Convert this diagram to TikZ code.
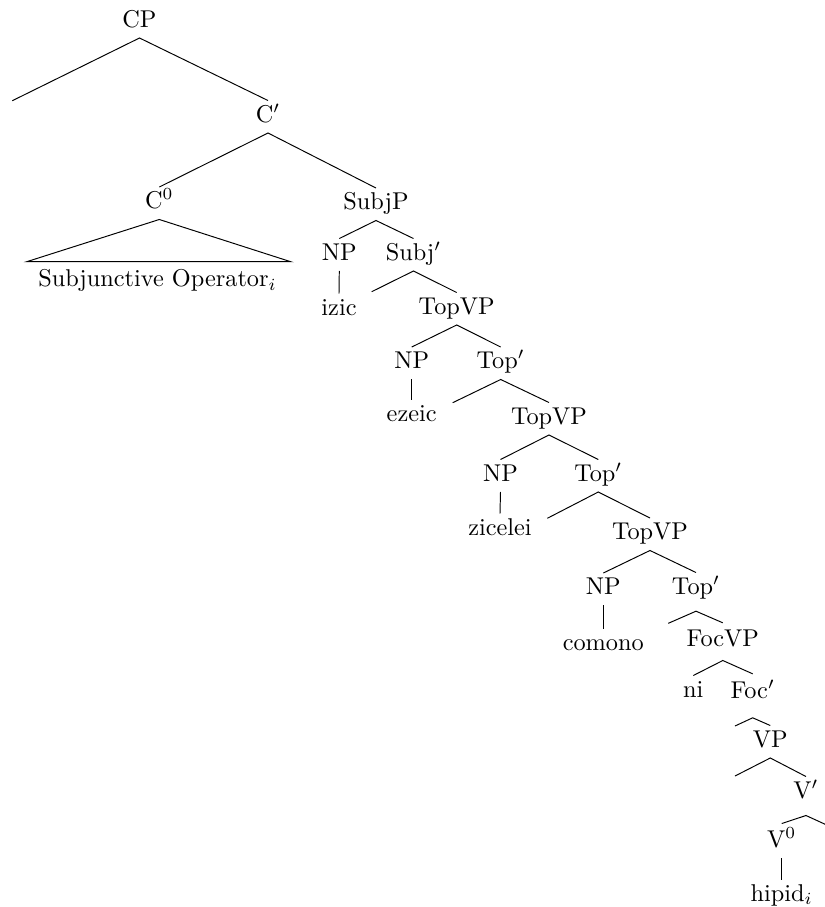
\documentclass[tikz,border=0pt]{standalone}
\begin{document}
\begin{tikzpicture}[x=0.4115pt, y=-0.4115pt,
  lbl/.style={inner sep=0pt, text height=8.64pt, text depth=4.32pt, anchor=base},
  branch/.style={line width=0.4pt}]
\useasboundingbox (0,0) rectangle (825,907);

% labels
\node[lbl] (cp) at (139.5,27) {CP};
\node[lbl] (cbar) at (268,122) {C$'$};
\node[lbl] (czero) at (159.3,208.5) {C$^0$};
\node[lbl] (subjp) at (376,209.5) {SubjP};
\node[lbl] (oper) at (157.5,286.5) {Subjunctive Operator$_i$};
\node[lbl] (np1) at (339.3,260) {NP};
\node[lbl] (subjbar) at (413.5,260) {Subj$'$};
\node[lbl] (izic) at (339,315) {izic};
\node[lbl] (topvp1) at (456.7,314) {TopVP};
\node[lbl] (np2) at (411.7,368.5) {NP};
\node[lbl] (topbar1) at (500.7,368.5) {Top$'$};
\node[lbl] (ezeic) at (411.7,421.5) {ezeic};
\node[lbl] (topvp2) at (549,424) {TopVP};
\node[lbl] (np3) at (500.5,481) {NP};
\node[lbl] (topbar2) at (598.3,481) {Top$'$};
\node[lbl] (zicelei) at (500,535) {zicelei};
\node[lbl] (topvp3) at (650,539.5) {TopVP};
\node[lbl] (np4) at (603.3,594.5) {NP};
\node[lbl, text depth=6.87pt] (topbar3) at (696,594) {Top$'$};
\node[lbl] (comono) at (603.3,650) {comono};
\node[lbl, text height=9.55pt, text depth=5.56pt] (focvp) at (722.8,646.5) {FocVP};
\node[lbl] (ni) at (693.3,697) {ni};
\node[lbl, text height=9.75pt, text depth=7.94pt] (focbar) at (752.7,698) {Foc$'$};
\node[lbl] (vp) at (770.3,747) {VP};
\node[lbl, text depth=7pt] (vbar) at (806,798) {V$'$};
\node[lbl, text height=9.67pt] (vzero) at (781.7,847.5) {V$^0$};
\node[lbl] (hipid) at (781.7,901) {hipid$_i$};

% free ends of empty branches
\coordinate (cpL) at (12.3,100.7);
\coordinate (subjL) at (371.7,291.7);
\coordinate (top1L) at (452.7,402.7);
\coordinate (top2L) at (547.3,518.3);
\coordinate (top3L) at (668.3,623.3);
\coordinate (focL) at (735,726);
\coordinate (vpL) at (735,776);
\coordinate (vbarR) at (830,826.5);
\coordinate (triL) at (26.7,261.7);
\coordinate (triR) at (290.7,261.7);

% branches
\draw[branch] (cpL) -- (cp.south) -- (cbar.north);
\draw[branch] (czero.north) -- (cbar.south) -- (subjp.north);
\draw[branch] (czero.south) -- (triL) -- (triR) -- cycle;
\draw[branch] (np1.north) -- (subjp.south) -- (subjbar.north);
\draw[branch] (np1.south) -- (izic.north);
\draw[branch] (subjL) -- (subjbar.south) -- (topvp1.north);
\draw[branch] (np2.north) -- (topvp1.south) -- (topbar1.north);
\draw[branch] (np2.south) -- (ezeic.north);
\draw[branch] (top1L) -- (topbar1.south) -- (topvp2.north);
\draw[branch] (np3.north) -- (topvp2.south) -- (topbar2.north);
\draw[branch] (np3.south) -- (zicelei.north);
\draw[branch] (top2L) -- (topbar2.south) -- (topvp3.north);
\draw[branch] (np4.north) -- (topvp3.south) -- (topbar3.north);
\draw[branch] (np4.south) -- (comono.north);
\draw[branch] (top3L) -- (topbar3.south) -- (focvp.north);
\draw[branch] (ni.north) -- (focvp.south) -- (focbar.north);
\draw[branch] (focL) -- (focbar.south) -- (vp.north);
\draw[branch] (vpL) -- (vp.south) -- (vbar.north);
\draw[branch] (vzero.north) -- (vbar.south) -- (vbarR);
\draw[branch] (vzero.south) -- (hipid.north);
\end{tikzpicture}
\end{document}
